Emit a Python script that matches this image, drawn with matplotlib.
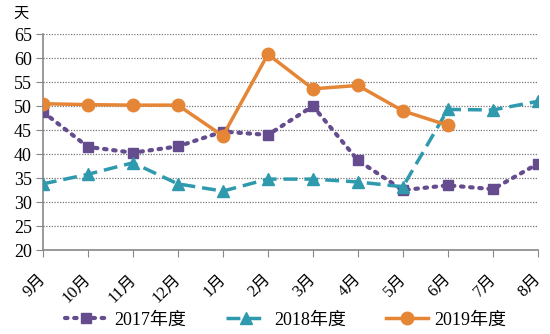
import matplotlib
matplotlib.use("Agg")
import matplotlib.pyplot as plt
import matplotlib.transforms as mtrans

months = ["9月", "10月", "11月", "12月", "1月", "2月", "3月", "4月", "5月", "6月", "7月", "8月"]
y2017 = [48.8, 41.5, 40.3, 41.6, 44.7, 44.0, 50.0, 38.7, 32.5, 33.5, 32.7, 38.0]
y2018 = [33.8, 35.8, 38.2, 33.8, 32.3, 34.8, 34.8, 34.2, 33.2, 49.3, 49.2, 51.0]
y2019 = [50.5, 50.3, 50.2, 50.2, 43.8, 60.8, 53.6, 54.3, 49.0, 46.0]
yticks = [20, 25, 30, 35, 40, 45, 50, 55, 60, 65]

plt.rcParams['font.family'] = ['Liberation Serif', 'Noto Sans CJK SC']

fig = plt.figure(figsize=(5.5, 3.34), dpi=100)
ax = fig.add_axes([0.078, 0.251, 0.9, 0.647])

x = list(range(len(months)))
c17, c18, c19 = "#654c8f", "#2f9aae", "#e58536"
ax.plot(x, y2017, color=c17, linestyle=(0, (0.6, 1.6)), linewidth=3, dash_capstyle='round',
        marker='s', markersize=7, label="2017年度", zorder=3)
ax.plot(x, y2018, color=c18, linestyle=(0, (4, 2)), linewidth=2.5,
        marker='^', markersize=8, label="2018年度", zorder=3)
ax.plot(x[:len(y2019)], y2019, color=c19, linestyle='-', linewidth=2.5,
        marker='o', markersize=9, label="2019年度", zorder=4)

ax.set_xlim(0, 11)
ax.set_ylim(20, 65)
ax.set_yticks(yticks)
ax.set_xticks(x)
ax.set_xticklabels(months, rotation=45, ha='right', va='top', rotation_mode='anchor', fontsize=12)
ax.tick_params(axis='y', labelsize=13, length=5, color='#888888', direction='out', pad=3)
ax.tick_params(axis='x', length=5, color='#888888', direction='out', pad=8)
offset = mtrans.ScaledTranslation(-5/100, -3/100, fig.dpi_scale_trans)
for lbl in ax.get_xticklabels():
    lbl.set_transform(lbl.get_transform() + offset)
ax.yaxis.grid(True, linestyle=(0, (1, 1.2)), color='#777777', linewidth=0.9)
ax.set_axisbelow(True)
for s in ['top', 'right']:
    ax.spines[s].set_visible(False)
for s in ['left', 'bottom']:
    ax.spines[s].set_color('#888888')
    ax.spines[s].set_linewidth(1.2)

fig.text(13/550, 1 - 14/334, "天", fontsize=11, ha='left', va='center')

leg = fig.legend(loc='center', bbox_to_anchor=(0.52, 1 - 320/334), ncol=3, frameon=False,
                 fontsize=13, handlelength=2.3, columnspacing=2.2, handletextpad=0.4)

fig.savefig("out.png", dpi=100)
